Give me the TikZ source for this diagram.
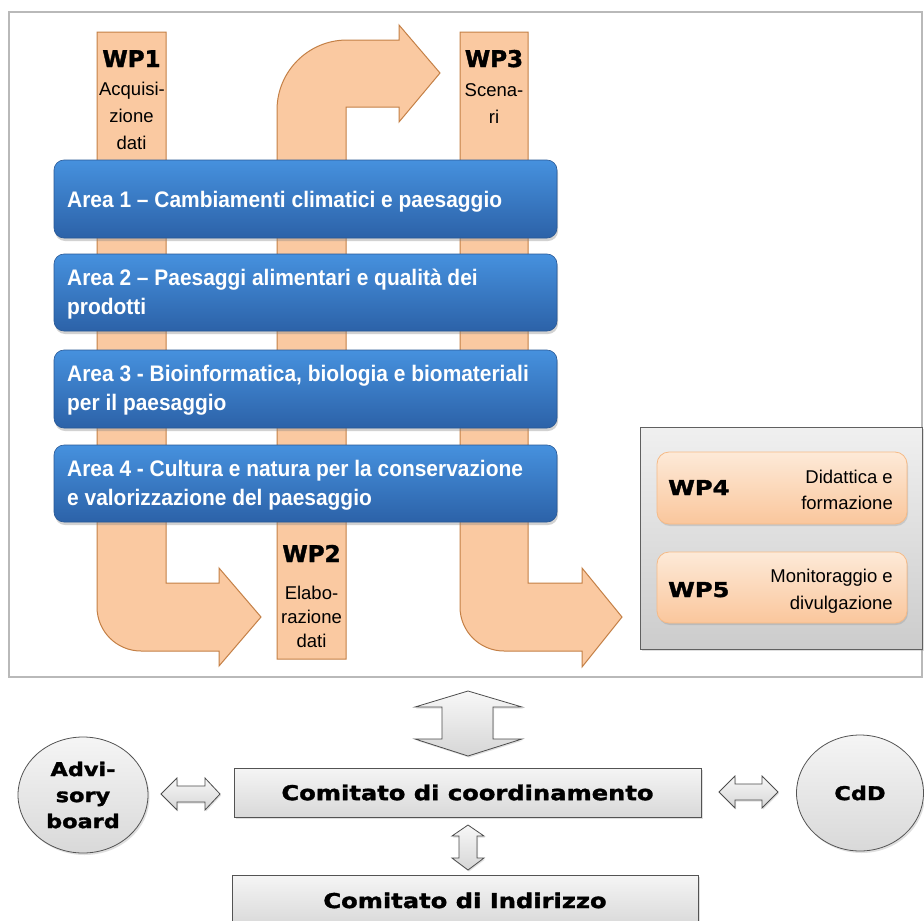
\documentclass[tikz,border=0pt]{standalone}
\usepackage{fontspec}
\setmainfont{Liberation Sans}
\newfontfamily\areafont[FakeStretch=0.93]{Liberation Sans}
\newfontfamily\heavyfont[FakeStretch=1.18,FakeBold=1.6]{DejaVu Sans}
\newfontfamily\heavyn[FakeBold=1.6]{DejaVu Sans}
\usetikzlibrary{shapes.geometric,shadows,shadings}
\definecolor{wpfill}{RGB}{250,201,161}
\definecolor{wpdraw}{RGB}{196,128,70}
\definecolor{bluetop}{RGB}{70,145,222}
\definecolor{bluebot}{RGB}{44,98,168}
\definecolor{bluedraw}{RGB}{40,88,150}
\definecolor{obtop}{RGB}{253,234,216}
\definecolor{obbot}{RGB}{250,198,156}
\definecolor{obdraw}{RGB}{246,186,134}
\begin{document}
\begin{tikzpicture}[x=1pt,y=-1pt,
  frame/.style={draw=gray!55,line width=1.2pt},
  wp/.style={fill=wpfill,draw=wpdraw,line width=1pt,line join=miter},
  areabox/.style={rounded corners=10pt,top color=bluetop,bottom color=bluebot,draw=bluedraw,line width=0.6pt,
    drop shadow={shadow xshift=1pt,shadow yshift=-3pt,opacity=0.35}},
  areatext/.style={anchor=west,inner sep=0pt,align=left,text=white,
    font=\areafont\bfseries\fontsize{22.5}{29}\selectfont},
  wplabel/.style={anchor=base,inner sep=0pt,font=\heavyn\bfseries\fontsize{23}{27}\selectfont},
  wpdesc/.style={anchor=base,inner sep=0pt,font=\fontsize{18.5}{25}\selectfont},
  graybox/.style={top color=gray!12,bottom color=gray!40,draw=gray!75!black,line width=1pt,
    drop shadow={shadow xshift=2pt,shadow yshift=-2pt,opacity=0.25}},
  obox/.style={rounded corners=12pt,top color=obtop,bottom color=obbot,draw=obdraw,line width=0.8pt,
    drop shadow={shadow xshift=1pt,shadow yshift=-2pt,opacity=0.25}},
  obhead/.style={anchor=base west,inner sep=0pt,font=\heavyfont\bfseries\fontsize{20.5}{24}\selectfont},
  obdesc/.style={anchor=east,inner sep=0pt,align=right,font=\fontsize{18.5}{26.5}\selectfont},
  cbox/.style={rectangle,top color=gray!8,bottom color=gray!30,draw=gray!65!black,line width=0.8pt,
    font=\heavyfont\bfseries\fontsize{20.5}{24}\selectfont,inner sep=0pt,
    drop shadow={shadow xshift=1.5pt,shadow yshift=-2pt,opacity=0.25}},
  ell/.style={ellipse,top color=gray!8,bottom color=gray!30,draw=gray!65!black,line width=0.8pt,
    inner sep=0pt,align=center,font=\heavyfont\bfseries\fontsize{19}{26}\selectfont,
    drop shadow={shadow xshift=1.5pt,shadow yshift=-2pt,opacity=0.25}},
  barrow/.style={top color=gray!6,bottom color=gray!32,draw=gray!60!black,line width=0.8pt,line join=miter,
    drop shadow={shadow xshift=1pt,shadow yshift=-1.5pt,opacity=0.25}}
]
\useasboundingbox (0,0) rectangle (924,921);
\fill[white] (0,0) rectangle (924,921);
\draw[frame] (9,12) rectangle (922,677);

% WP columns / flow arrows
\draw[wp] (97,32) -- (166,32) -- (166,583) -- (219,583) -- (219,568) -- (261,617) -- (219,666) -- (219,651) -- (141,651) arc[start angle=270,end angle=180,radius=44pt] -- cycle;
\draw[wp] (277,659) -- (346,659) -- (346,107) -- (399,107) -- (399,122) -- (440,73) -- (399,25) -- (399,40) -- (347,40) arc[start angle=90,end angle=180,radius=70pt] -- cycle;
\draw[wp] (460,32) -- (528,32) -- (528,583) -- (582,583) -- (582,568) -- (622,617) -- (582,667) -- (582,651) -- (504,651) arc[start angle=270,end angle=180,radius=44pt] -- cycle;

\node[wplabel] (wp1) at (131.5,67) {WP1};
\node[wpdesc] (wp1a) at (132,95) {Acquisi-};
\node[wpdesc] (wp1b) at (131.5,122) {zione};
\node[wpdesc] (wp1c) at (131.5,149) {dati};
\node[wplabel] (wp3) at (494,67) {WP3};
\node[wpdesc] (wp3a) at (494,96) {Scena-};
\node[wpdesc] (wp3b) at (494,123) {ri};
\node[wplabel] (wp2) at (311.5,562) {WP2};
\node[wpdesc] (wp2a) at (311.5,599) {Elabo-};
\node[wpdesc] (wp2b) at (311.5,623) {razione};
\node[wpdesc] (wp2c) at (311.5,647) {dati};

% Areas
\path[areabox] (54,160) rectangle (557,238);
\path[areabox] (54,254) rectangle (557,331);
\path[areabox] (54,350) rectangle (557,428);
\path[areabox] (54,445) rectangle (557,522);
\node[areatext] (a1) at (67,202) {Area 1 – Cambiamenti climatici e paesaggio};
\node[areatext] (a2) at (67,294) {Area 2 – Paesaggi alimentari e qualità dei\\prodotti};
\node[areatext] (a3) at (67,390) {Area 3 - Bioinformatica, biologia e biomateriali\\per il paesaggio};
\node[areatext] (a4) at (67,485) {Area 4 - Cultura e natura per la conservazione\\e valorizzazione del paesaggio};

% WP4 / WP5 group
\path[graybox] (640,427) rectangle (922,649);
\path[obox] (657,452) rectangle (907,524);
\path[obox] (657,552) rectangle (907,623);
\node[obhead] (wp4) at (668,495) {WP4};
\node[obdesc] (wp4d) at (893,490) {Didattica e\\formazione};
\node[obhead] (wp5) at (668,597) {WP5};
\node[obdesc] (wp5d) at (893,591) {Monitoraggio e\\divulgazione};

% Governance
\node[cbox,minimum width=467pt,minimum height=49pt] (cc) at (467.5,792.5) {Comitato di coordinamento};
\node[cbox,minimum width=466pt,minimum height=50pt,anchor=north] (ci) at (465,875) {Comitato di Indirizzo};
\node[ell,minimum width=130pt,minimum height=116pt] (adv) at (83,795) {Advi-\\sory\\board};
\node[ell,minimum width=127pt,minimum height=116pt] (cdd) at (860,793) {CdD};

% block arrows
\path[barrow] (468,691) -- (522,707) -- (493,707) -- (493,739) -- (522,739) -- (468,756) -- (415,739) -- (442,739) -- (442,707) -- (415,707) -- cycle;
\path[barrow] (468,825) -- (484,836) -- (477,836) -- (477,858) -- (484,858) -- (468,870) -- (452,858) -- (459,858) -- (459,836) -- (452,836) -- cycle;
\path[barrow] (161,794) -- (177,778) -- (177,786) -- (205,786) -- (205,778) -- (220,794) -- (205,810) -- (205,802) -- (177,802) -- (177,810) -- cycle;
\path[barrow] (719,792) -- (735,776) -- (735,784) -- (762,784) -- (762,776) -- (778,792) -- (762,808) -- (762,800) -- (735,800) -- (735,808) -- cycle;
\end{tikzpicture}
\end{document}
